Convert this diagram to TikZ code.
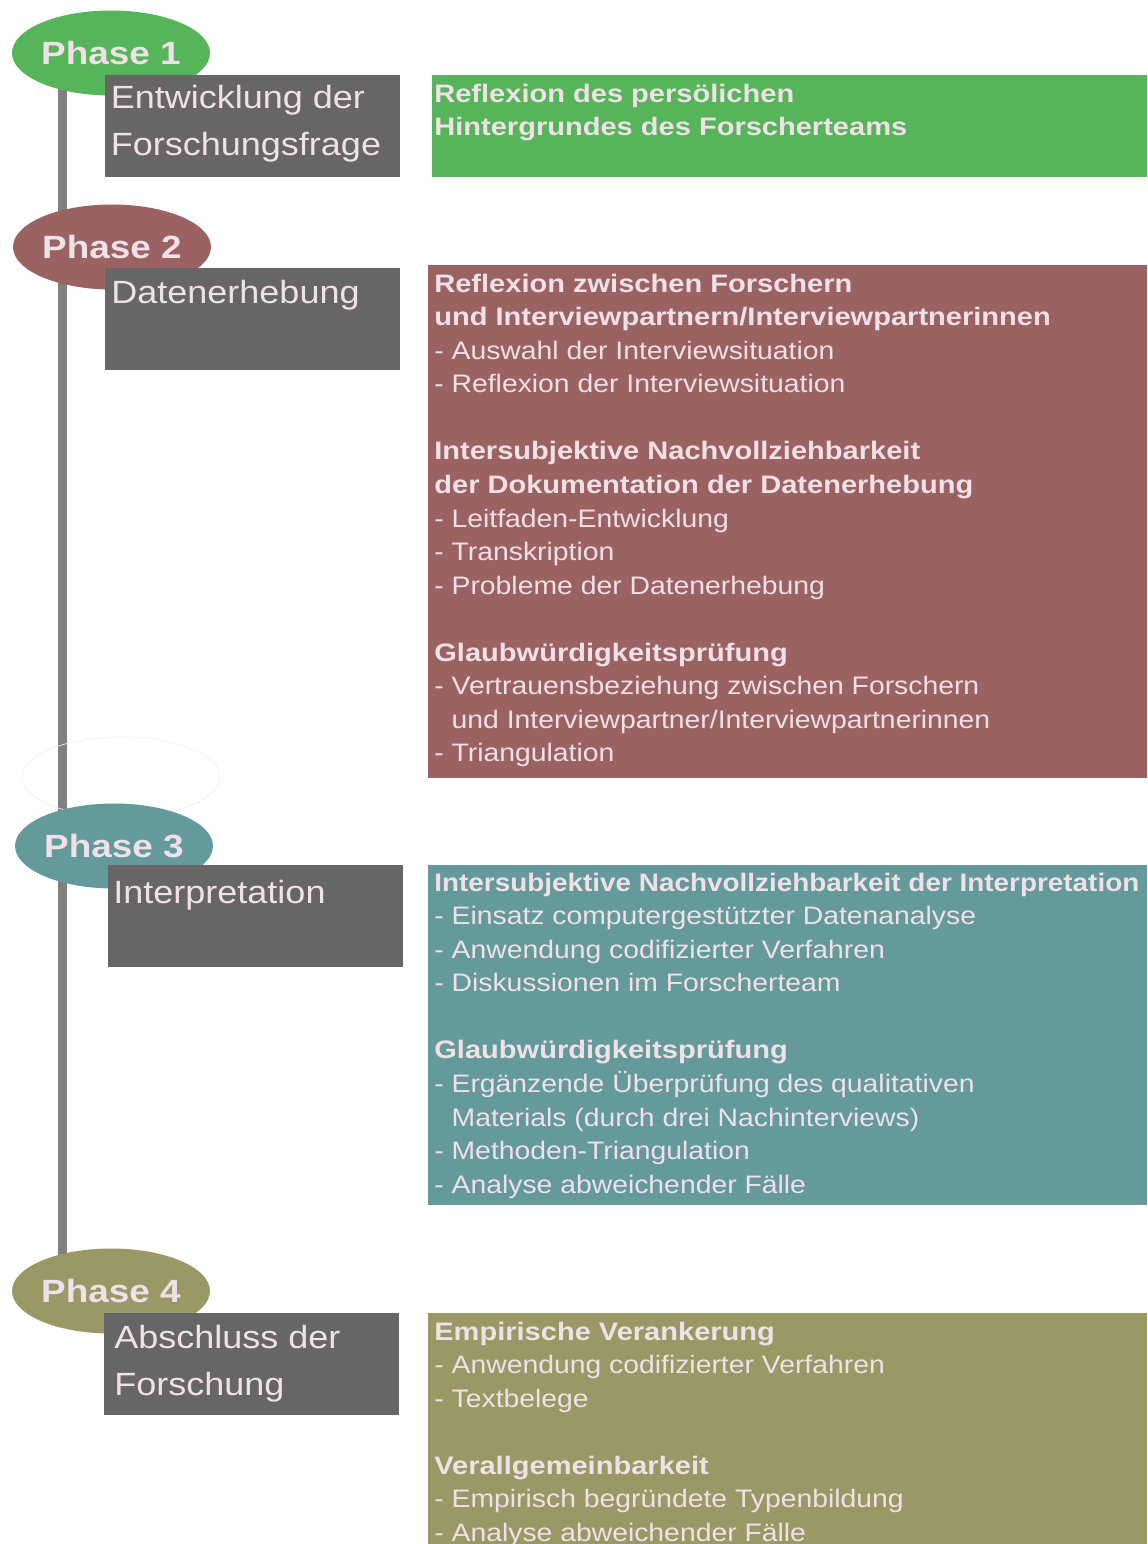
\documentclass[tikz,border=0pt]{standalone}
\usepackage{fontspec}
\setmainfont[FakeStretch=1.12, BoldFeatures={FakeStretch=1.148}]{Liberation Sans}
\usetikzlibrary{shapes.geometric, positioning}

\definecolor{txt}{RGB}{240,224,231}
\definecolor{stagegray}{RGB}{102,102,102}
\definecolor{spinegray}{RGB}{128,128,128}
\definecolor{phgreen}{RGB}{86,180,90}
\definecolor{phred}{RGB}{155,98,98}
\definecolor{phteal}{RGB}{101,154,154}
\definecolor{pholive}{RGB}{154,153,102}

\begin{document}
\begin{tikzpicture}[
    x=0.02cm, y=-0.02cm,
    phase/.style={ellipse, fill=#1, minimum width=3.96cm, minimum height=1.7cm, inner sep=0pt, text=txt, font=\fontsize{18.3}{22}\selectfont\bfseries},
    stage/.style={rectangle, fill=stagegray, anchor=north west, minimum width=5.9cm, minimum height=2.04cm, inner sep=0pt},
    stagetext/.style={anchor=north west, inner sep=0pt, align=left, text=txt, font=\fontsize{18.3}{26.6}\selectfont},
    panel/.style={rectangle, fill=#1, anchor=north west, minimum width=14.38cm, inner sep=0pt},
    paneltext/.style={anchor=north west, inner sep=0pt, align=left, text=txt, font=\fontsize{14.4}{19.1}\selectfont},
    spine/.style={draw=spinegray, line width=0.18cm}
]
\useasboundingbox (0,0) rectangle (1147,1544);

% Timeline
\coordinate (spinetop) at (62.5,60);
\coordinate (spinebot) at (62.5,1280);
\draw[spine] (spinetop) -- (spinebot);

% faint outline left over between phase 2 and 3
\node[ellipse, draw=black!6, minimum width=3.96cm, minimum height=1.6cm] (ghost) at (121,777) {};

% Phase 1
\node[phase=phgreen] (ph1) at (111,53) {Phase 1};
\node[stage] (st1) at (105,75) {};
\node[stagetext, below right=0.2cm and 0.11cm of st1.north west] (st1t) {Entwicklung der\\Forschungsfrage};
\node[panel=phgreen, minimum width=14.3cm, minimum height=2.04cm] (pn1) at (432,75) {};
\node[paneltext, below right=0.17cm and 0.04cm of pn1.north west] (pn1t) {%
  \textbf{Reflexion des persölichen}\\
  \textbf{Hintergrundes des Forscherteams}};

% Phase 2
\node[phase=phred] (ph2) at (112,247) {Phase 2};
\node[stage] (st2) at (105,268) {};
\node[stagetext, below right=0.24cm and 0.12cm of st2.north west] (st2t) {Datenerhebung};
\node[panel=phred, minimum height=10.26cm] (pn2) at (428,265) {};
\node[paneltext, below right=0.17cm and 0.12cm of pn2.north west] (pn2t) {%
  \textbf{Reflexion zwischen Forschern}\\
  \textbf{und Interviewpartnern/Interviewpartnerinnen}\\
  - Auswahl der Interviewsituation\\
  - Reflexion der Interviewsituation\\[19.1pt]
  \textbf{Intersubjektive Nachvollziehbarkeit}\\
  \textbf{der Dokumentation der Datenerhebung}\\
  - Leitfaden-Entwicklung\\
  - Transkription\\
  - Probleme der Datenerhebung\\[19.1pt]
  \textbf{Glaubwürdigkeitsprüfung}\\
  - Vertrauensbeziehung zwischen Forschern\\
  \phantom{- }und Interviewpartner/Interviewpartnerinnen\\
  - Triangulation};

% Phase 3
\node[phase=phteal] (ph3) at (114,846) {Phase 3};
\node[stage] (st3) at (108,865) {};
\node[stagetext, below right=0.3cm and 0.1cm of st3.north west] (st3t) {Interpretation};
\node[panel=phteal, minimum height=6.8cm] (pn3) at (428,865) {};
\node[paneltext, below right=0.15cm and 0.12cm of pn3.north west] (pn3t) {%
  \scalebox{0.96}[1]{\textbf{Intersubjektive Nachvollziehbarkeit der Interpretation}}\\
  - Einsatz computergestützter Datenanalyse\\
  - Anwendung codifizierter Verfahren\\
  - Diskussionen im Forscherteam\\[19.1pt]
  \textbf{Glaubwürdigkeitsprüfung}\\
  - Ergänzende Überprüfung des qualitativen\\
  \phantom{- }Materials (durch drei Nachinterviews)\\
  - Methoden-Triangulation\\
  - Analyse abweichender Fälle};

% Phase 4
\node[phase=pholive] (ph4) at (111,1291) {Phase 4};
\node[stage] (st4) at (104,1313) {};
\node[stagetext, below right=0.24cm and 0.2cm of st4.north west] (st4t) {Abschluss der\\Forschung};
\node[panel=pholive, minimum height=4.7cm] (pn4) at (428,1313) {};
\node[paneltext, below right=0.17cm and 0.12cm of pn4.north west] (pn4t) {%
  \textbf{Empirische Verankerung}\\
  - Anwendung codifizierter Verfahren\\
  - Textbelege\\[19.1pt]
  \textbf{Verallgemeinbarkeit}\\
  - Empirisch begründete Typenbildung\\
  - Analyse abweichender Fälle};

\end{tikzpicture}
\end{document}
